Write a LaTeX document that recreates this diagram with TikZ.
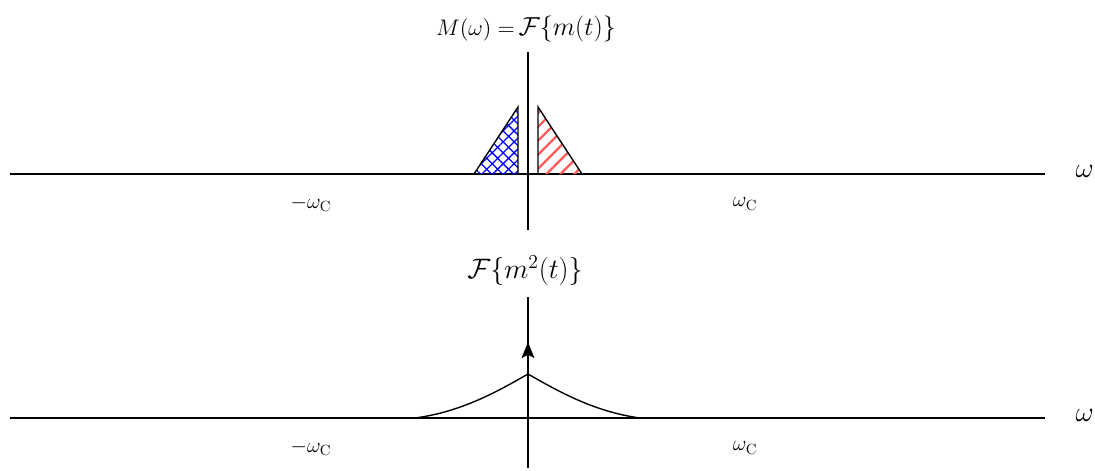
\RequirePackage{fix-cm}
\documentclass[tikz,border=0pt]{standalone}
\usepackage{amsmath,amssymb}
\usepackage{tikz}
\usetikzlibrary{arrows.meta,patterns.meta}
\tikzset{
  axis/.style  ={line width=1pt},
  band/.style  ={line width=1pt, draw=black},
  lbl/.style   ={inner sep=0pt, font=\fontsize{15}{17}\selectfont},
  wlbl/.style  ={inner sep=0pt, anchor=east, font=\fontsize{20}{23}\selectfont},
  imp/.style   ={-{Stealth[length=4mm,width=3.2mm,inset=0.8mm]}, line width=1pt},
}

\begin{document}
\begin{tikzpicture}[x=0.025cm, y=-0.025cm]
  \useasboundingbox (0,0) rectangle (1095,470);
  % --- top: M(omega) ---
  \coordinate (tl) at (10,174);  \coordinate (tr) at (1045,174);
  \coordinate (tt) at (528,52);  \coordinate (tb) at (528,230);
  \draw[axis] (tl) -- (tr);
  \draw[axis] (tt) -- (tb);
  \node[wlbl] (tw) at (1094,171) {$\omega$};
  \node[inner sep=0pt] (ttl) at (526,29)
    {\fontsize{16}{18}\selectfont$M(\omega)=$\,\fontsize{18.5}{21}\selectfont$\mathcal{F}\{m(t)\}$};
  \coordinate (b1) at (474,174); \coordinate (b2) at (518,107); \coordinate (b3) at (518,174);
  \coordinate (r1) at (538,174); \coordinate (r2) at (538,107); \coordinate (r3) at (582,174);
  \fill[pattern={Lines[angle=45,distance=5.5pt,line width=0.9pt]}, pattern color=blue] (b1) -- (b2) -- (b3) -- cycle;
  \fill[pattern={Lines[angle=-45,distance=5.5pt,line width=0.9pt]}, pattern color=blue] (b1) -- (b2) -- (b3) -- cycle;
  \fill[pattern={Lines[angle=45,distance=7pt,line width=1.6pt]}, pattern color=red!65] (r1) -- (r2) -- (r3) -- cycle;
  \draw[band] (b1) -- (b2) -- (b3);
  \draw[band] (r1) -- (r2) -- (r3);
  \node[lbl] (tmc) at (311,204) {$-\omega_{\mathrm{C}}$};
  \node[lbl] (tpc) at (745,204) {$\omega_{\mathrm{C}}$};
  % --- bottom: F{m^2(t)} ---
  \coordinate (bl) at (10,418);  \coordinate (br) at (1045,418);
  \coordinate (bt) at (528,297); \coordinate (bb) at (528,468);
  \draw[axis] (bl) -- (br);
  \draw[axis] (bt) -- (bb);
  \node[wlbl] (bw) at (1094,415) {$\omega$};
  \node[inner sep=0pt, font=\fontsize{20}{23}\selectfont] (btl) at (525,271) {$\mathcal{F}\{m^2(t)\}$};
  \coordinate (o) at (528,418); \coordinate (d) at (528,342);
  \draw[imp] (o) -- (d);
  \coordinate (cl) at (415,418); \coordinate (pk) at (528,374); \coordinate (cr) at (640,418);
  \draw[band] (cl) .. controls (460,412) and (495,393) .. (pk)
              .. controls (561,393) and (596,412) .. (cr);
  \node[lbl] (bmc) at (311,448) {$-\omega_{\mathrm{C}}$};
  \node[lbl] (bpc) at (745,448) {$\omega_{\mathrm{C}}$};
\end{tikzpicture}
\end{document}
